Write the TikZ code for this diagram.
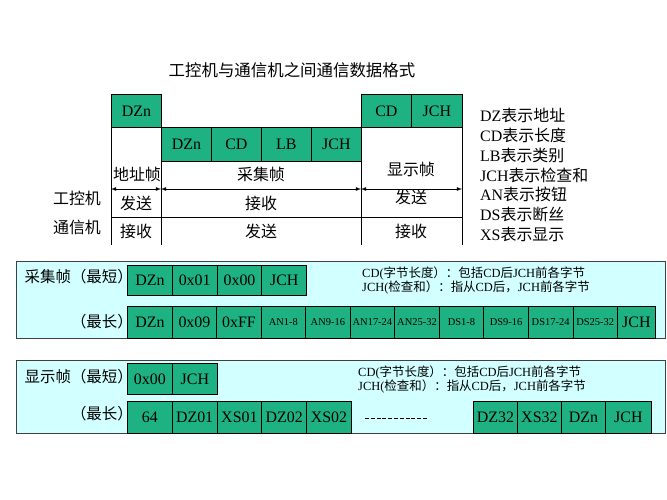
\documentclass[tikz,border=0pt]{standalone}
\usepackage{fontspec}
\setmainfont{Liberation Serif}
\newfontfamily\cjk{Noto Sans CJK SC}
\usepackage{tikz}
\usetikzlibrary{arrows, positioning}
\definecolor{fldgreen}{RGB}{30,178,130}
\definecolor{panelcyan}{RGB}{210,255,255}
\newcommand{\zh}[1]{{\cjk #1}}
\tikzset{
  fld/.style={draw=black, fill=fldgreen, line width=0.8bp, inner sep=0pt,
    anchor=north west, font=\fontsize{16}{18}\selectfont},
  fldsmall/.style={fld, font=\fontsize{10.5}{12}\selectfont},
  lbl/.style={inner sep=0pt, font=\fontsize{16}{18}\selectfont\cjk},
  plbl/.style={inner sep=0pt, anchor=east, font=\fontsize{15.5}{18}\selectfont\cjk},
  note/.style={inner sep=0pt, anchor=west, align=left, font=\fontsize{12.5}{15}\selectfont},
  panel/.style={fill=panelcyan, draw=black!75, line width=0.8bp}
}

\begin{document}
\begin{tikzpicture}[x=1bp,y=-1bp]
\useasboundingbox (0,0) rectangle (667,500);

% title
\node[lbl, font=\fontsize{16.5}{18}\selectfont\cjk] (title) at (292,70) {工控机与通信机之间通信数据格式};

% frames between the two machines
\node[fld, minimum width=50bp, minimum height=33bp] (addr) at (111,94) {DZn};
\node[fld, minimum width=50bp, minimum height=33bp] (dcd) at (361,94) {CD};
\node[fld, minimum width=51bp, minimum height=33bp] (djch) at (411,94) {JCH};
\foreach \t [count=\i from 0] in {DZn,CD,LB,JCH}
\node[fld, minimum width=50bp, minimum height=34bp] (c\i) at (161+50*\i,127) {\t};

\foreach \x [count=\i] in {111,161,361,462} {
\coordinate (top\i) at (\x,127);
\coordinate (mid\i) at (\x,189);
\coordinate (bot\i) at (\x,245);
\draw[line width=0.8bp] (top\i) -- (bot\i);
}
\foreach \i/\j in {1/2,2/3,3/4}
\draw[latex-latex, line width=0.8bp] (mid\i) -- (mid\j);
\coordinate (hl) at (111,217);
\coordinate (hr) at (462,217);
\draw[line width=0.8bp] (hl) -- (hr);

\node[lbl] (naddr) at (137,174) {地址帧};
\node[lbl] (ncol) at (261,174) {采集帧};
\node[lbl] (ndisp) at (411,169) {显示帧};
\node[lbl] (s1) at (136,203) {发送};
\node[lbl] (s2) at (261,203) {接收};
\node[lbl] (s3) at (411,197) {发送};
\node[lbl] (r1) at (136,231) {接收};
\node[lbl] (r2) at (261,231) {发送};
\node[lbl] (r3) at (411,231) {接收};
\node[lbl] (pc) at (77,198) {工控机};
\node[lbl] (com) at (77,227) {通信机};

% legend
\node[inner sep=0pt, anchor=west, align=left, font=\fontsize{16}{20}\selectfont] (legend) at (480,175)
{DZ\zh{表示地址}\\CD\zh{表示长度}\\LB\zh{表示类别}\\JCH\zh{表示检查和}\\AN\zh{表示按钮}\\DS\zh{表示断丝}\\XS\zh{表示显示}};

% collect frame
\filldraw[panel] (16,261) rectangle (665,338);
\node[plbl] (cshort) at (133,277) {采集帧（最短）};
\node[plbl] (clong) at (133,322) {（最长）};
\foreach \t [count=\i from 0] in {DZn,0x01,0x00,JCH}
\node[fld, minimum width=45bp, minimum height=30bp] (cs\i) at (127+44.8*\i,265) {\t};
\foreach \t [count=\i from 0] in {DZn,0x09,0xFF}
\node[fld, minimum width=45bp, minimum height=32bp] (cl\i) at (127+44.55*\i,306) {\t};
\foreach \t [count=\i from 3] in {AN1-8,AN9-16,AN17-24,AN25-32,DS1-8,DS9-16,DS17-24,DS25-32}
\node[fldsmall, minimum width=44.55bp, minimum height=32bp] (cl\i) at (127+44.55*\i,306) {\t};
\node[fld, minimum width=38bp, minimum height=32bp] (cljch) at (617,306) {JCH};
\node[note] (cnote) at (362,280.5) {CD(\zh{字节长度）：包括}CD\zh{后}JCH\zh{前各字节}\\JCH(\zh{检查和）：指从}CD\zh{后，}JCH\zh{前各字节}};

% display frame
\filldraw[panel] (16,360) rectangle (665,433);
\node[plbl] (dshort) at (133,377) {显示帧（最短）};
\node[plbl] (dlong) at (133,414) {（最长）};
\foreach \t [count=\i from 0] in {0x00,JCH}
\node[fld, minimum width=45bp, minimum height=31bp] (ds\i) at (127+45*\i,363) {\t};
\foreach \t [count=\i from 0] in {64,DZ01,XS01,DZ02,XS02}
\node[fld, minimum width=44.8bp, minimum height=32bp] (dl\i) at (127+44.8*\i,401) {\t};
\foreach \t [count=\i from 0] in {DZ32,XS32,DZn}
\node[fld, minimum width=44bp, minimum height=32bp] (dm\i) at (473+44*\i,401) {\t};
\node[fld, minimum width=46bp, minimum height=32bp] (dljch) at (605,401) {JCH};
\coordinate (gapl) at (365,418);
\coordinate (gapr) at (428,418);
\draw[line width=1bp, dash pattern=on 4bp off 1.8bp] (gapl) -- (gapr);
\node[note] (dnote) at (358,379.5) {CD(\zh{字节长度）：包括}CD\zh{后}JCH\zh{前各字节}\\JCH(\zh{检查和）：指从}CD\zh{后，}JCH\zh{前各字节}};
\end{tikzpicture}
\end{document}
